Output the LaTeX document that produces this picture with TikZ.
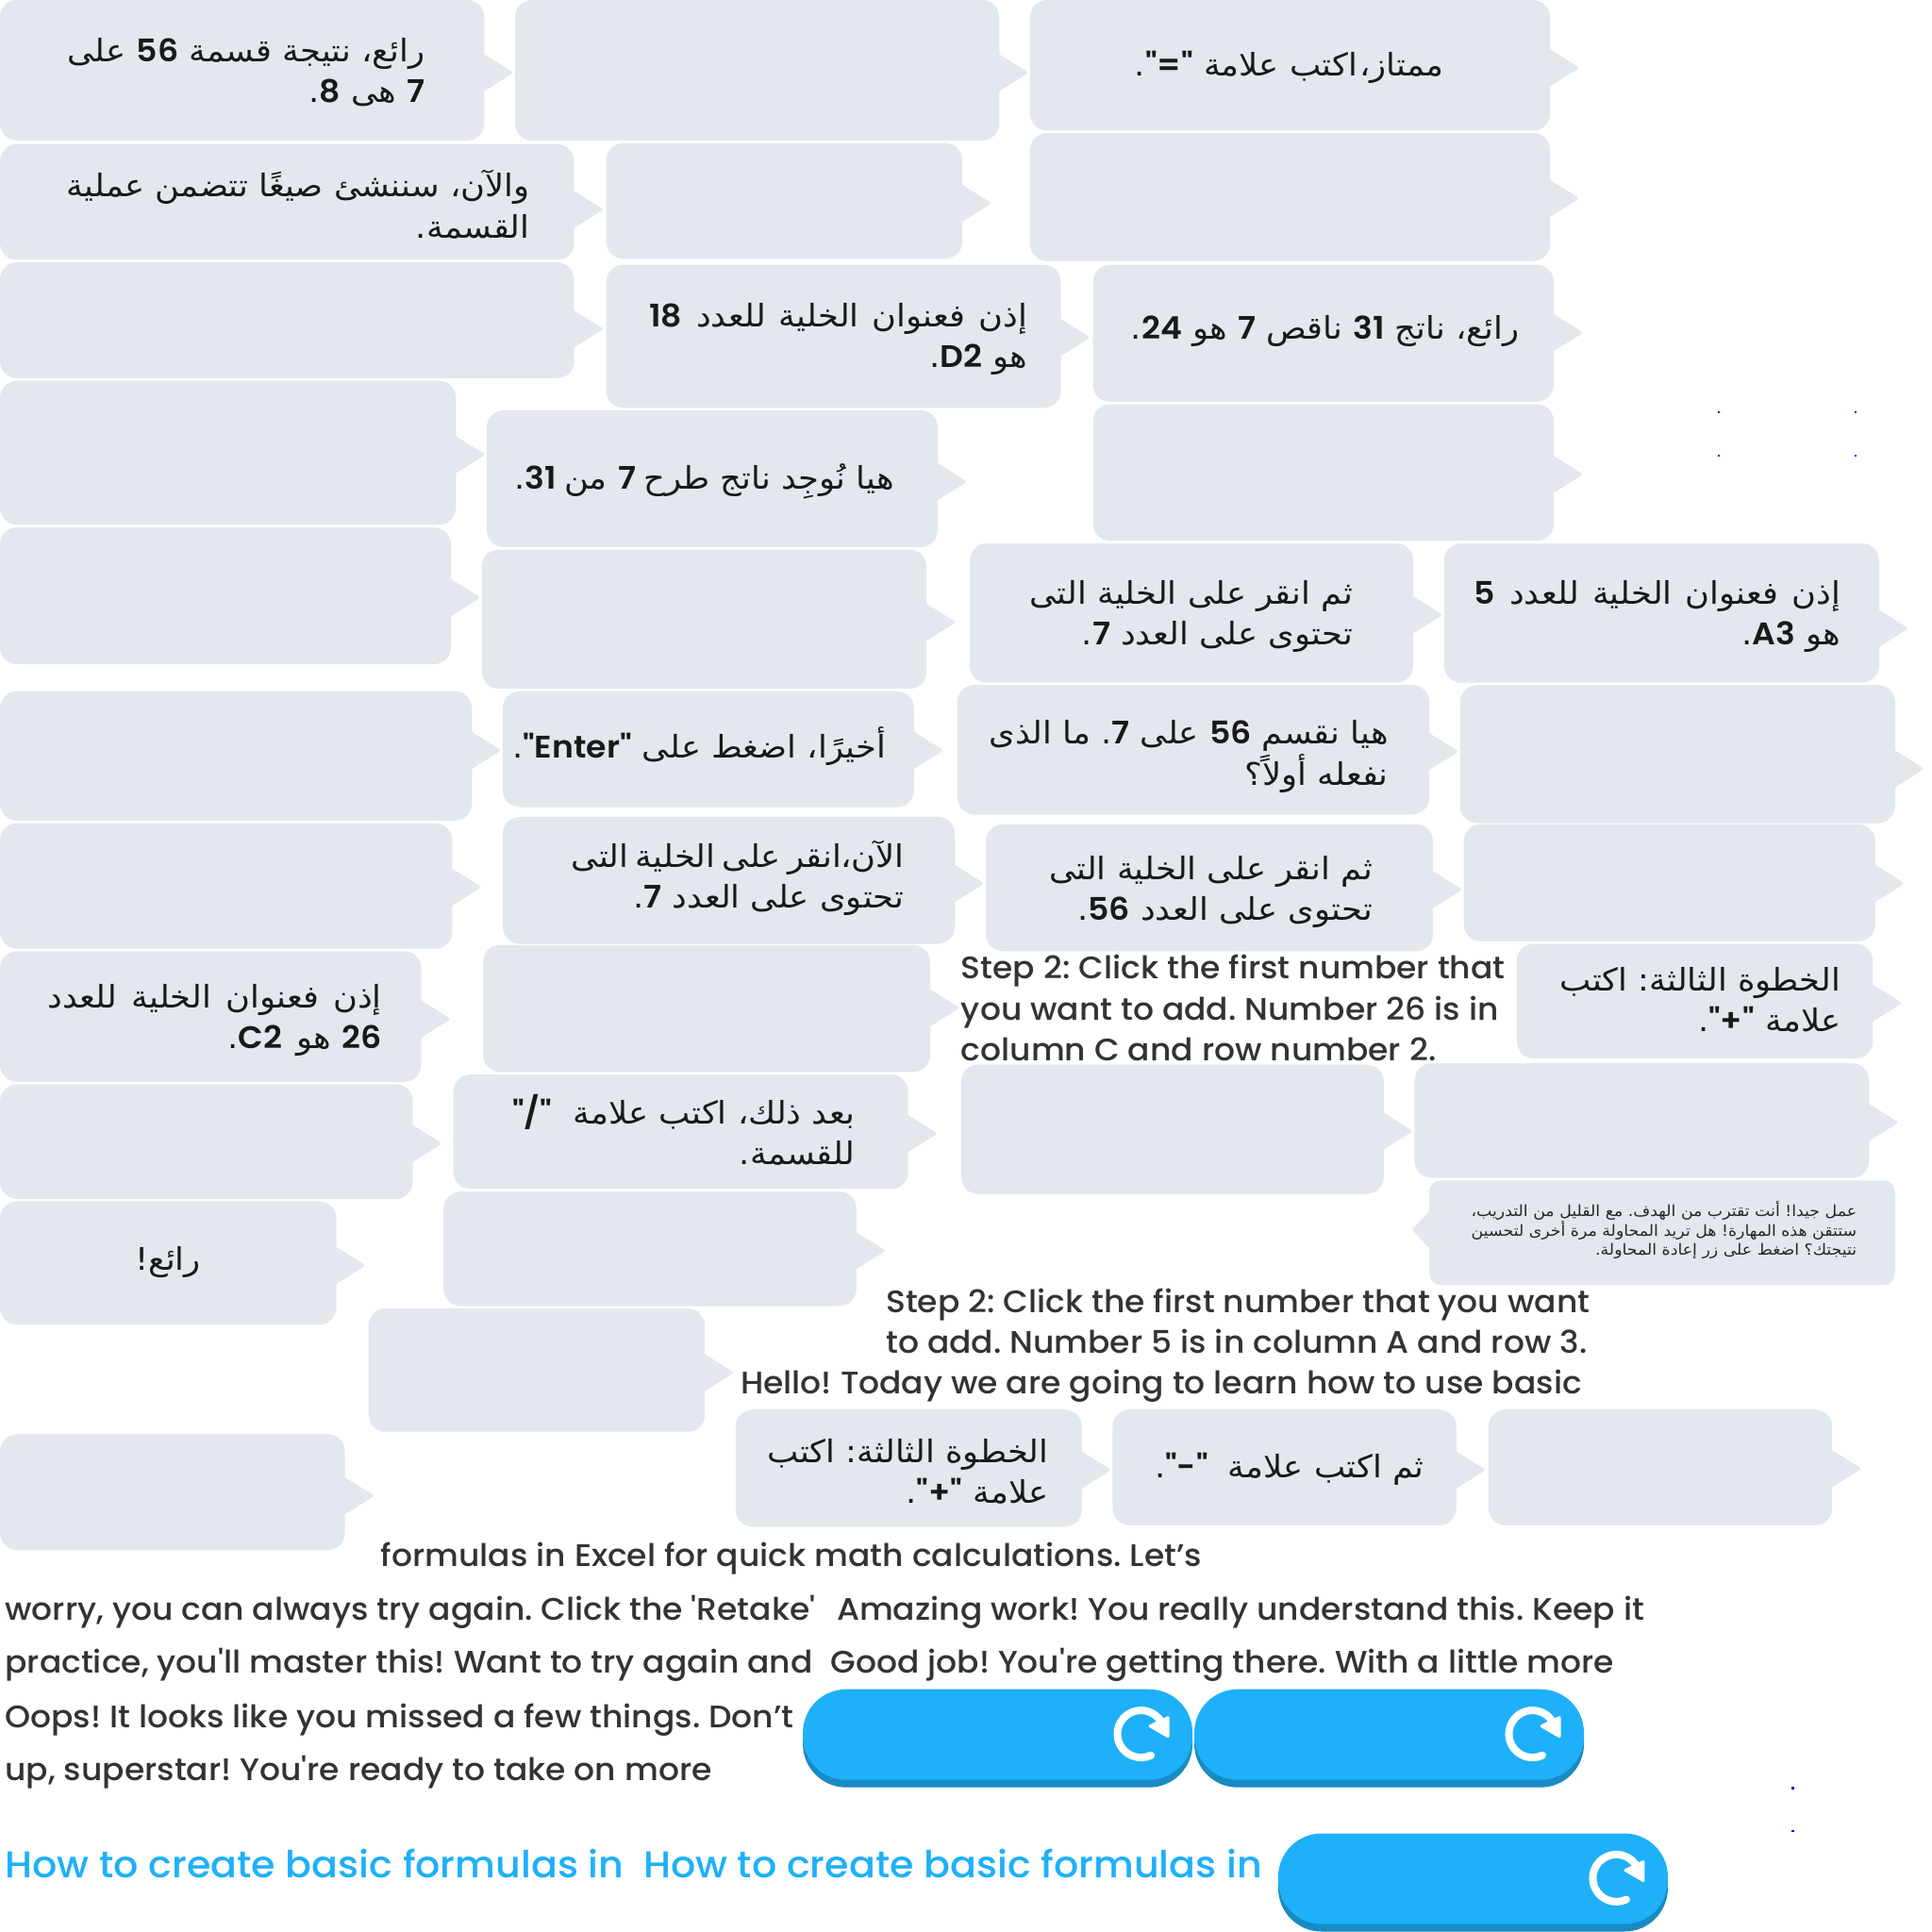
\documentclass[tikz,border=0pt]{standalone}
\usepackage{fontspec}
\TeXXeTstate=1
\frenchspacing
\newfontfamily\arabicfont[Script=Arabic,FakeStretch=1.07]{DejaVu Sans}
\newfontfamily\enfont[FakeStretch=1.045]{Poppins Medium}
\newfontfamily\numfont[FakeStretch=1.05]{Poppins SemiBold}
\definecolor{bub}{HTML}{E3E8EE}
\definecolor{btn}{HTML}{1EB0F8}
\definecolor{btnd}{HTML}{188BC4}
\definecolor{ink}{HTML}{333333}
\newcommand{\lnum}[1]{{\numfont\beginL #1\endL}}
\newcommand{\rl}[1]{\beginR #1\endR}
\newcommand{\bub}[5]{%
  \fill[bub,rounded corners=18pt] (#1,#2) rectangle (#3,#4);
  \fill[bub,rounded corners=3pt] (#3-1,#5-15) -- (#3,#5-15) -- (#3+24,#5) -- (#3,#5+15) -- (#3-1,#5+15) -- cycle;}
\newcommand{\bubleft}[5]{%
  \fill[bub,rounded corners=12pt] (#1,#2) rectangle (#3,#4);
  \fill[bub,rounded corners=2pt] (#1+1,#5-15) -- (#1,#5-15) -- (#1-14,#5) -- (#1,#5+15) -- (#1+1,#5+15) -- cycle;}
\newcommand{\retry}[3]{%
  \begin{scope}[shift={(#1,#2)},x=1pt,y=-1pt]
    \fill[btnd,rounded corners=46pt] (0,8) rectangle (413,104);
    \fill[btn,rounded corners=46pt] (0,0) rectangle (413,96);
    \draw[white,line width=8pt,line cap=round] (#3+11,70) arc[start angle=-65,end angle=-325,radius=25pt];
    \fill[white,draw=white,line width=3pt,line join=round] (#3+29,30) -- (#3+29,50) -- (#3+10,39) -- cycle;
  \end{scope}}
\tikzset{
  atext/.style={font=\arabicfont\fontsize{33}{38}\selectfont,text=black!90,anchor=base east,inner sep=0pt},
  asmall/.style={font=\arabicfont\fontsize{16.2}{20}\selectfont,text=black!85,anchor=base east,inner sep=0pt},
  etext/.style={font=\enfont\fontsize{33}{40}\selectfont,text=ink,anchor=base west,inner sep=0pt},
  btext/.style={font=\enfont\fontsize{39.4}{44}\selectfont,text=btn,anchor=base west,inner sep=0pt},
  dot/.style={fill=blue,draw=none}
}
\begin{document}
\begin{tikzpicture}[x=1.30612pt,y=-1.30612pt]
\useasboundingbox (0,0) rectangle (1568,1568);
\clip (0,0) rectangle (1568,1568);
\bub{0}{0}{393}{114}{59}
\bub{418}{0}{811}{114}{59}
\bub{836}{0}{1258}{106}{55}
\bub{0}{117}{466}{211}{170}
\bub{492}{116}{781}{210}{165}
\bub{836}{108}{1258}{212}{161}
\bub{0}{213}{466}{307}{267}
\bub{492}{215}{861}{331}{274}
\bub{887}{215}{1261}{326}{270}
\bub{0}{309}{370}{426}{369}
\bub{395}{333}{761}{444}{391}
\bub{887}{328}{1261}{439}{385}
\bub{0}{428}{366}{539}{485}
\bub{391}{446}{752}{559}{505}
\bub{787}{441}{1147}{554}{499}
\bub{1172}{441}{1525}{554}{510}
\bub{0}{561}{383}{666}{609}
\bub{408}{561}{742}{655}{609}
\bub{777}{556}{1160}{661}{610}
\bub{1185}{556}{1538}{668}{624}
\bub{0}{668}{367}{770}{720}
\bub{408}{663}{775}{766}{717}
\bub{800}{669}{1163}{772}{722}
\bub{1188}{669}{1522}{764}{717}
\bub{0}{772}{342}{878}{827}
\bub{392}{767}{755}{870}{818}
\bub{1231}{766}{1520}{859}{814}
\bub{0}{880}{335}{973}{928}
\bub{368}{872}{737}{965}{920}
\bub{780}{864}{1123}{969}{918}
\bub{1148}{863}{1517}{956}{911}
\bub{0}{975}{273}{1075}{1027}
\bub{360}{967}{695}{1060}{1015}
\bubleft{1160}{958}{1538}{1043}{998}
\bub{299}{1062}{572}{1162}{1114}
\bub{0}{1164}{280}{1258}{1214}
\bub{597}{1144}{878}{1239}{1193}
\bub{903}{1144}{1182}{1238}{1193}
\bub{1208}{1144}{1487}{1238}{1192}
% Arabic text
\node[atext] (t1a) at (345,50) {\rl{رائع، نتيجة قسمة \lnum{56} على}};
\node[atext] (t1b) at (345,83) {\rl{\lnum{7} هى \lnum{8}.}};
\node[atext] (t3) at (1172,62) {\rl{ممتاز،\kern-9pt{} اكتب علامة \lnum{"="}.}};
\node[atext] (t4a) at (430,160) {\rl{والآن، سننشئ صيغًا تتضمن عملية}};
\node[atext] (t4b) at (430,193) {\rl{القسمة.}};
\node[atext] (t8a) at (834,265) {\rl{إذن\kern3pt{} فعنوان\kern3pt{} الخلية\kern3pt{} للعدد\kern4pt{} \lnum{18}}};
\node[atext] (t8b) at (834,298) {\rl{هو \lnum{D2}.}};
\node[atext] (t9) at (1233,275) {\rl{رائع، ناتج \lnum{31} ناقص \lnum{7} هو \lnum{24}.}};
\node[atext] (t11) at (726,397) {\rl{هيا نُوجِد ناتج طرح\kern-3pt{} \lnum{7} من\kern-3pt{} \lnum{31}.}};
\node[atext] (t15a) at (1098,490) {\rl{ثم انقر على الخلية التى}};
\node[atext] (t15b) at (1098,523) {\rl{تحتوى على العدد \lnum{7}.}};
\node[atext] (t16a) at (1494,490) {\rl{إذن\kern3pt{} فعنوان\kern3pt{} الخلية\kern3pt{} للعدد\kern4pt{} \lnum{5}}};
\node[atext] (t16b) at (1494,523) {\rl{هو \lnum{A3}.}};
\node[atext] (t18) at (719,615) {\rl{أخيرًا، اضغط على \lnum{"Enter"}.}};
\node[atext] (t19a) at (1127,604) {\rl{هيا نقسم \lnum{56} على \lnum{7}. ما الذى}};
\node[atext] (t19b) at (1127,637) {\rl{نفعله أولاً؟}};
\node[atext] (t22a) at (734,704) {\rl{الآن،\kern-12pt{} انقر\kern-4pt{} على\kern-4pt{} الخلية\kern-4pt{} التى}};
\node[atext] (t22b) at (734,737) {\rl{تحتوى على العدد \lnum{7}.}};
\node[atext] (t23a) at (1114,714) {\rl{ثم انقر على الخلية التى}};
\node[atext] (t23b) at (1114,747) {\rl{تحتوى على العدد \lnum{56}.}};
\node[atext] (t25a) at (310,818) {\rl{إذن\kern4pt{} فعنوان\kern4pt{} الخلية\kern4pt{} للعدد}};
\node[atext] (t25b) at (310,851) {\rl{\lnum{26} هو\kern4pt{} \lnum{C2}.}};
\node[atext] (t27a) at (1494,804) {\rl{الخطوة الثالثة: اكتب}};
\node[atext] (t27b) at (1494,837) {\rl{علامة \lnum{"+"}.}};
\node[atext] (t29a) at (694,912) {\rl{بعد ذلك، اكتب علامة\kern11pt{} \lnum{"/"}}};
\node[atext] (t29b) at (694,945) {\rl{للقسمة.}};
\node[atext] (t32) at (163,1031) {\rl{رائع!}};
\node[asmall] (t34a) at (1507,987) {\rl{عمل جيدا! أنت تقترب من الهدف. مع القليل من التدريب،}};
\node[asmall] (t34b) at (1507,1003) {\rl{ستتقن هذه المهارة! هل تريد المحاولة مرة أخرى لتحسين}};
\node[asmall] (t34c) at (1507,1019) {\rl{نتيجتك؟ اضغط على زر إعادة المحاولة.}};
\node[atext] (t37a) at (851,1187) {\rl{الخطوة الثالثة: اكتب}};
\node[atext] (t37b) at (851,1220) {\rl{علامة \lnum{"+"}.}};
\node[atext] (t38) at (1156,1199) {\rl{ثم اكتب علامة\kern10pt{} \lnum{"-"}.}};
% English text
\node[etext] (e1) at (780,794) {Step 2: Click the first number that};
\node[etext] (e2) at (780,828) {you want to add. Number 26 is in};
\node[etext] (e3) at (780,861) {column C and row number 2.};
\node[etext] (e4) at (719,1065) {Step 2: Click the first number that you want};
\node[etext] (e5) at (719,1098) {to add. Number 5 is in column A and row 3.};
\node[etext] (e6) at (601,1131) {Hello! Today we are going to learn how to use basic};
\node[etext] (e7) at (309,1271) {formulas in Excel for quick math calculations. Let’s};
\node[etext] (e8) at (4,1315) {worry, you can always try again. Click the 'Retake'};
\node[etext] (e9) at (679,1315) {Amazing work! You really understand this. Keep it};
\node[etext] (e10) at (4,1358) {practice, you'll master this! Want to try again and};
\node[etext] (e11) at (674,1358) {Good job! You're getting there. With a little more};
\node[etext] (e12) at (4,1402) {Oops! It looks like you missed a few things. Don’t};
\node[etext] (e13) at (4,1445) {up, superstar! You're ready to take on more};
\node[btext] (h1) at (4,1524) {How to create basic formulas in};
\node[btext] (h2) at (522,1524) {How to create basic formulas in};
% dots
\fill[dot] (1394,333.6) rectangle +(2,2);
\fill[dot] (1505,333.6) rectangle +(2,2);
\fill[dot] (1394,368.8) rectangle +(2,2);
\fill[dot] (1505,368.8) rectangle +(2,2);
\fill[dot] (1454,1450) rectangle +(2,2);
\fill[dot] (1454,1485) rectangle +(2,2);
\retry{651.6}{1371}{358}
\retry{969.3}{1371}{358}
\retry{1037.4}{1488}{358}
\end{tikzpicture}
\end{document}
